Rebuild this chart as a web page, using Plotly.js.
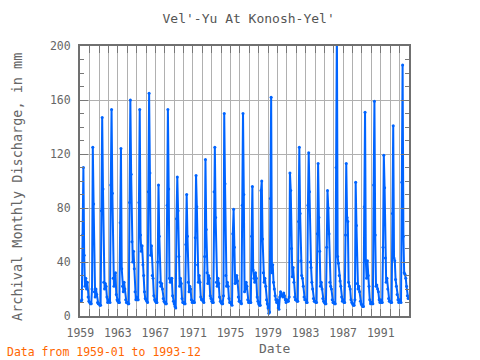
<!DOCTYPE html>
<html>
<head>
<meta charset="utf-8">
<script src="https://cdn.plot.ly/plotly-3.0.1.min.js"></script>
<style>html,body{margin:0;padding:0;background:#fff}#chart{width:480px;height:360px}</style>
</head>
<body>
<div id="chart"></div>
<script>
// Monthly discharge (mm), Jan..Dec for each year
const firstYear = 1959;
const q1959_1966 = [
  11,11,12,60,110,45,22,28,20,25,14,11,
  10,9,9,20,125,83,18,14,20,16,10,9,
  9,8,8,78,147,94,25,20,24,22,14,10,
  12,11,10,97,153,91,28,22,30,32,16,12,
  11,10,10,69,124,35,22,18,25,20,12,10,
  10,9,9,84,160,105,55,40,48,35,18,12,
  14,12,12,84,153,60,48,52,38,30,18,13,
  12,11,10,92,165,106,45,52,30,28,15,12
];
const q1967_1975 = [
  11,10,10,40,97,59,25,22,24,20,13,11,
  10,9,9,82,153,94,28,25,26,28,15,11,
  9,7,6,72,103,78,44,22,28,24,13,10,
  10,9,9,53,90,59,25,18,22,20,12,10,
  11,10,10,58,104,81,38,25,30,25,14,12,
  12,11,10,44,116,64,32,24,30,28,15,13,
  11,10,10,92,125,73,25,22,28,24,14,11,
  10,9,9,15,150,98,30,22,25,22,13,10,
  10,9,8,61,79,51,24,25,30,26,14,11
];
const q1976_1984 = [
  11,10,9,82,150,90,18,20,25,22,12,10,
  11,10,10,59,96,34,28,25,32,28,14,11,
  9,8,8,93,100,57,32,25,28,22,12,9,
  6,2,3,87,162,32,38,25,20,15,12,10,
  12,6,5,14,18,16,15,14,17,15,12,10,
  12,11,11,14,106,93,50,29,36,25,14,12,
  12,11,11,70,125,76,41,30,28,22,14,12,
  12,10,10,82,121,92,40,36,25,20,13,11,
  11,10,10,61,113,73,48,22,25,20,13,11
];
const q1985_1993 = [
  10,9,9,51,93,80,61,25,22,20,12,10,
  10,9,9,110,215,44,39,30,26,22,14,11,
  12,10,10,60,113,73,70,25,22,20,12,10,
  9,8,8,12,99,67,24,20,22,18,11,9,
  8,7,7,81,151,41,28,41,30,22,12,9,
  10,9,9,97,159,60,22,23,20,18,12,10,
  12,10,10,51,119,95,43,25,28,20,13,11,
  11,10,10,76,141,43,41,27,22,16,12,10,
  12,11,10,99,186,59,32,31,28,22,15,13
];
const yTicks = [0, 40, 80, 120, 160, 200];

const values = [].concat(q1959_1966, q1967_1975, q1976_1984, q1985_1993);
const dates = values.map((v, i) => {
  const y = firstYear + Math.floor(i / 12);
  const m = (i % 12) + 1;
  return y + '-' + String(m).padStart(2, '0') + '-01';
});

const mono = 'DejaVu Sans Mono, monospace';
const trace = {
  x: dates, y: values, type: 'scatter', mode: 'lines+markers',
  line: {color: '#0064ff', width: 2}, marker: {color: '#0064ff', size: 3},
  hoverinfo: 'skip', cliponaxis: true
};
const layout = {
  width: 480, height: 360,
  margin: {l: 80, r: 71, t: 46, b: 44},
  paper_bgcolor: '#fff', plot_bgcolor: '#fff',
  showlegend: false,
  font: {family: mono, size: 11, color: '#666'},
  title: {text: "Vel'-Yu At Konosh-Yel'", x: 0.518, xanchor: 'center', y: 0.95, yanchor: 'middle',
          font: {family: mono, size: 13, color: '#555'}},
  xaxis: {
    type: 'date', range: ['1958-12-20', '1994-01-05'],
    tick0: '1959-01-01', dtick: 'M48', tickformat: '%Y',
    ticks: 'inside', ticklen: 7, tickwidth: 1, tickcolor: '#777',
    ticklabelstandoff: 5,
    showgrid: true, gridcolor: '#b0b0b0', gridwidth: 1,
    showline: true, linecolor: '#707070', linewidth: 2, mirror: 'allticks',
    zeroline: false, tickfont: {family: mono, size: 11.5, color: '#666'},
    minor: {dtick: 'M12', tick0: '1959-01-01', ticks: 'inside', ticklen: 7, tickcolor: '#777',
            showgrid: true, gridcolor: '#b0b0b0', gridwidth: 1},
    fixedrange: true
  },
  yaxis: {
    range: [0, 200], tickvals: yTicks, ticktext: yTicks.map(String),
    ticks: 'inside', ticklen: 8, tickwidth: 1, tickcolor: '#777',
    ticklabelstandoff: 5,
    showgrid: true, gridcolor: '#b0b0b0', gridwidth: 1,
    showline: true, linecolor: '#707070', linewidth: 2, mirror: 'allticks',
    zeroline: false, tickfont: {family: mono, size: 11.5, color: '#666'},
    minor: {dtick: 10, tick0: 0, ticks: 'inside', ticklen: 4, tickcolor: '#777', showgrid: false},
    fixedrange: true
  },
  annotations: [
    {text: 'Archival Monthly Discharge, in mm', xref: 'paper', yref: 'paper',
     x: -0.19, y: 0.48, xanchor: 'center', yanchor: 'middle', textangle: -90, showarrow: false,
     font: {family: mono, size: 13.5, color: '#666'}},
    {text: 'Date', xref: 'paper', yref: 'paper', x: 0.59, y: -0.122, xanchor: 'center', yanchor: 'middle',
     showarrow: false, font: {family: mono, size: 13, color: '#666'}},
    {text: 'Data from 1959-01 to 1993-12', xref: 'paper', yref: 'paper', x: -0.228, y: -0.135,
     xanchor: 'left', yanchor: 'middle', showarrow: false,
     font: {family: mono, size: 11.5, color: '#ff6600'}}
  ]
};
Plotly.newPlot('chart', [trace], layout, {staticPlot: true, displayModeBar: false});
</script>
</body>
</html>
